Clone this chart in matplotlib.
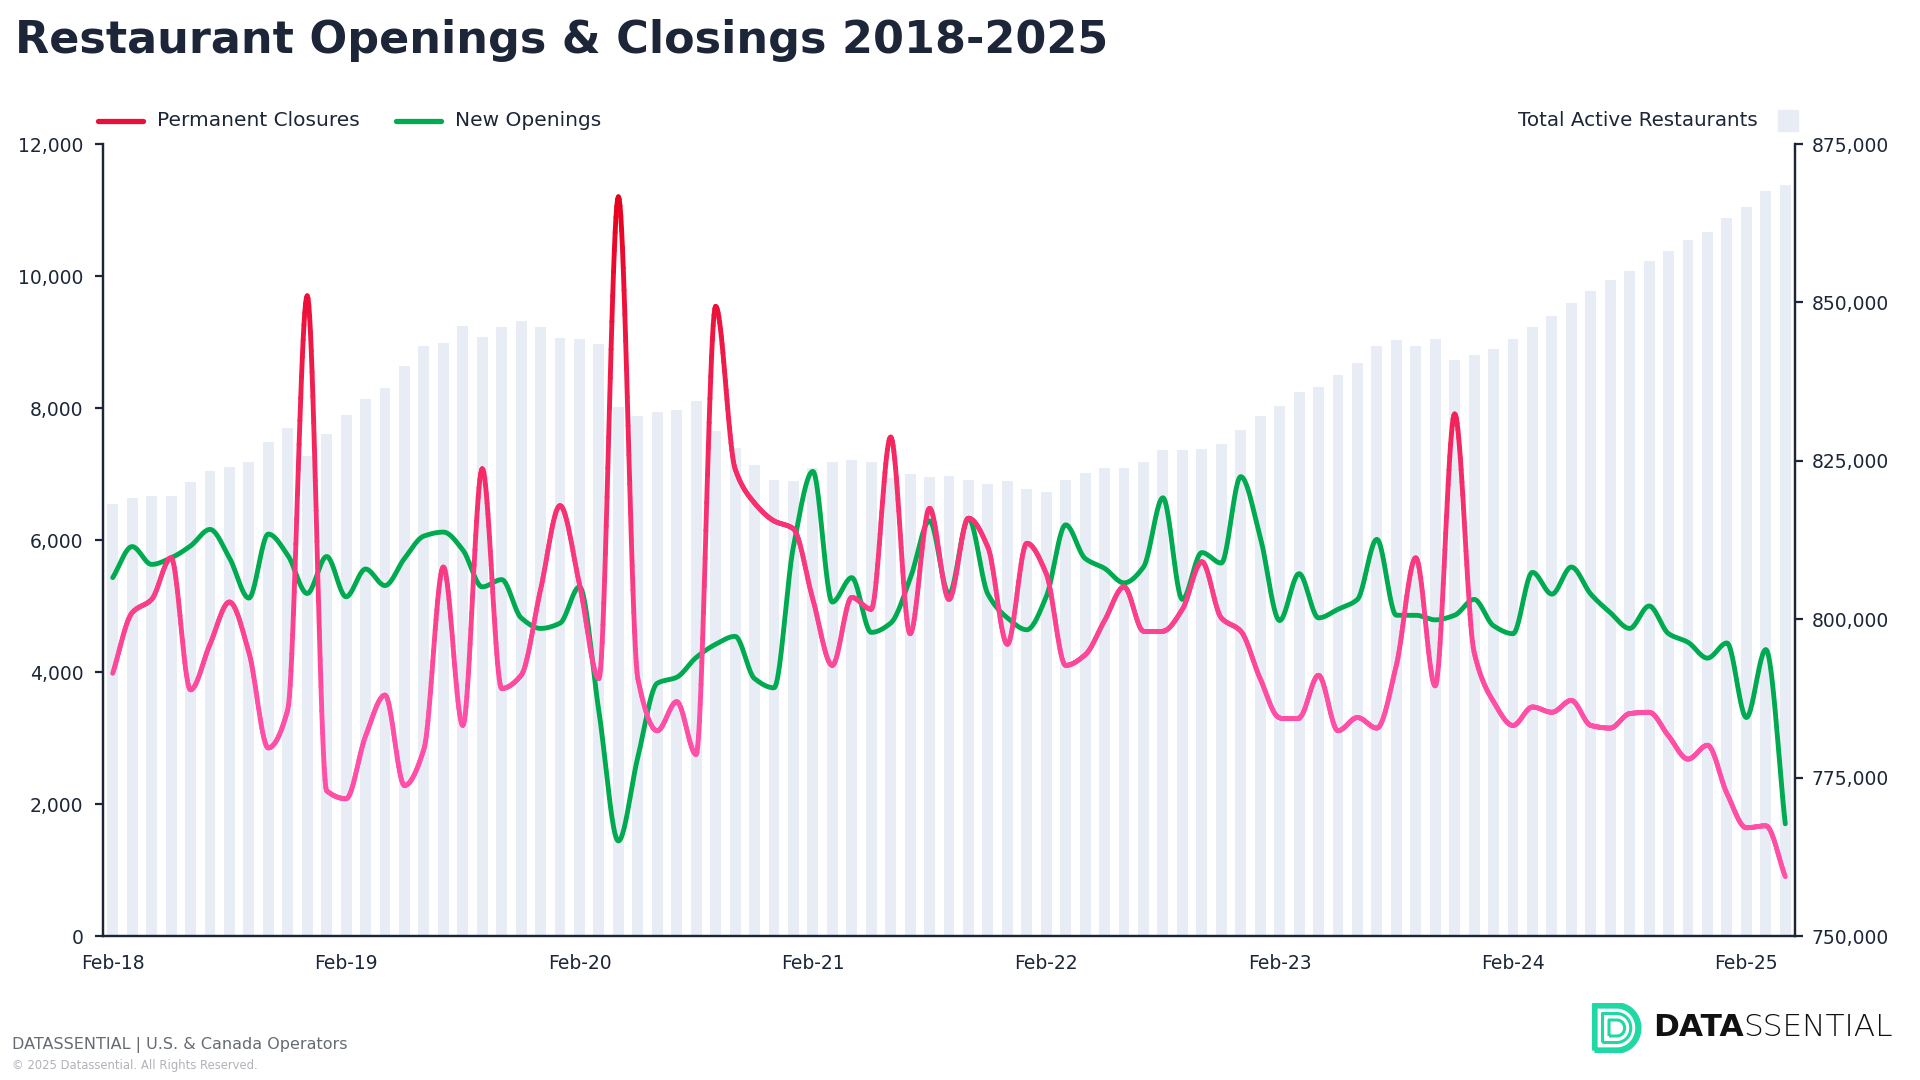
#!/usr/bin/env python3
"""Restaurant openings & closings 2018-2025, monthly, with total active restaurants as bars."""

import numpy as np
import matplotlib

matplotlib.use("Agg")
import matplotlib.pyplot as plt
from matplotlib.collections import LineCollection
from matplotlib.lines import Line2D
from matplotlib.patches import Rectangle, PathPatch
from matplotlib.path import Path
from matplotlib.colors import to_rgb

# monthly, Feb-18 .. Apr-25
closures = [
    3980, 4900, 5100, 5730, 3730, 4420, 5060, 4300, 2850, 3430, 9700, 2200,
    2080, 3030, 3650, 2280, 2830, 5590, 3190, 7080, 3750, 3950, 5250, 6520,
    5330, 3900, 11200, 3900, 3110, 3550, 2750, 9540, 7080, 6560, 6290, 6170,
    5100, 4100, 5130, 4950, 7560, 4580, 6480, 5100, 6330, 5890, 4420, 5950,
    5490, 4100, 4260, 4780, 5290, 4620, 4620, 4950, 5670, 4820, 4620, 3900,
    3310, 3310, 3950, 3110, 3310, 3150, 4100, 5730, 3790, 7910, 4300, 3550,
    3190, 3470, 3390, 3570, 3190, 3150, 3370, 3390, 3030, 2680, 2890, 2160,
    1640, 1670, 900,
]
openings = [
    5430, 5900, 5630, 5730, 5910, 6160, 5730, 5120, 6090, 5770, 5190, 5750,
    5140, 5560, 5310, 5720, 6060, 6120, 5850, 5290, 5400, 4820, 4660, 4740,
    5290, 3400, 1440, 2710, 3830, 3920, 4220, 4420, 4540, 3900, 3760, 5900,
    7040, 5060, 5430, 4600, 4740, 5410, 6290, 5180, 6330, 5180, 4820, 4640,
    5140, 6230, 5720, 5570, 5350, 5590, 6640, 5100, 5810, 5650, 6960, 6050,
    4780, 5490, 4820, 4950, 5100, 6010, 4860, 4860, 4790, 4860, 5100, 4700,
    4580, 5510, 5180, 5590, 5180, 4900, 4660, 5000, 4580, 4450, 4210, 4440,
    3310, 4340, 1700,
]
active = [
    818120, 819110, 819440, 819440, 821670, 823410, 824070, 824820, 827960,
    830190, 825810, 829280, 832260, 834820, 836560, 840030, 843170, 843670,
    846310, 844570, 846150, 847140, 846150, 844410, 844240, 843420, 833500,
    832090, 832750, 833080, 834490, 829690, 827050, 824400, 822010, 821840,
    823910, 824820, 825150, 824820, 822250, 822910, 822500, 822580, 822010,
    821350, 821840, 820600, 820100, 822010, 823080, 823910, 823910, 824820,
    826720, 826720, 826880, 827710, 829860, 832090, 833660, 835890, 836720,
    838620, 840360, 843170, 844000, 843170, 844160, 840940, 841760, 842670,
    844160, 846150, 847880, 849950, 851850, 853590, 854990, 856480, 858050,
    859780, 861190, 863260, 865000, 867560, 868470,
]
tick_labels = ["Feb-18", "Feb-19", "Feb-20", "Feb-21", "Feb-22", "Feb-23", "Feb-24", "Feb-25"]

NAVY = "#1c2638"
BAR = "#e8edf5"
PINK = "#ff4fa6"
RED = "#e8001c"
GREEN = "#00aa50"
TEAL = "#1fd8a4"


def monotone(x, y, n=24):
    # monotone cubic (Fritsch-Carlson), only for drawing the smooth line
    x = np.asarray(x, float)
    y = np.asarray(y, float)
    h = np.diff(x)
    d = np.diff(y) / h
    m = np.zeros_like(y)
    m[0], m[-1] = d[0], d[-1]
    for k in range(1, len(y) - 1):
        if d[k - 1] * d[k] > 0:
            w1 = 2 * h[k] + h[k - 1]
            w2 = h[k] + 2 * h[k - 1]
            m[k] = (w1 + w2) / (w1 / d[k - 1] + w2 / d[k])
    xs, ys = [], []
    t = np.linspace(0, 1, n, endpoint=False)
    for k in range(len(x) - 1):
        h00 = 2 * t**3 - 3 * t**2 + 1
        h10 = t**3 - 2 * t**2 + t
        h01 = -2 * t**3 + 3 * t**2
        h11 = t**3 - t**2
        xs.append(x[k] + t * h[k])
        ys.append(h00 * y[k] + h10 * h[k] * m[k] + h01 * y[k + 1] + h11 * h[k] * m[k + 1])
    xs.append([x[-1]])
    ys.append([y[-1]])
    return np.concatenate(xs), np.concatenate(ys)


plt.rcParams["font.family"] = ["DejaVu Sans"]

fig = plt.figure(figsize=(19.2, 10.8), dpi=100)
rect = [103 / 1920, 1 - 936 / 1080, (1795 - 103) / 1920, (936 - 144) / 1080]
ax = fig.add_axes(rect)
axb = ax.twinx()
ax.set_zorder(axb.get_zorder() + 1)
ax.patch.set_visible(False)

idx = np.arange(len(active))

# bars: total active restaurants (right axis)
axb.bar(idx, active, width=0.56, color=BAR, zorder=1)
axb.set_ylim(750000, 875000)
axb.set_yticks(np.arange(750000, 875001, 25000))
axb.set_yticklabels([f"{v:,}" for v in range(750000, 875001, 25000)])

# closures: gradient pink -> red by value
xs, ys = monotone(idx, closures)
pts = np.column_stack([xs, ys]).reshape(-1, 1, 2)
segs = np.concatenate([pts[:-1], pts[1:]], axis=1)
mid = (ys[:-1] + ys[1:]) / 2
tt = np.clip((mid - 3500) / (11200 - 3500), 0, 1)[:, None]
cols = (1 - tt) * np.array(to_rgb(PINK)) + tt * np.array(to_rgb(RED))
lc = LineCollection(segs, colors=cols, linewidths=3.5, capstyle="round", joinstyle="round", zorder=3)
ax.add_collection(lc)

# openings
gx, gy = monotone(idx, openings)
ax.plot(gx, gy, color=GREEN, lw=3.5, solid_capstyle="round", zorder=2)

ax.set_xlim(-0.5, len(idx) - 0.5)
ax.set_ylim(0, 12000)
ax.set_yticks(np.arange(0, 12001, 2000))
ax.set_yticklabels([f"{v:,}" for v in range(0, 12001, 2000)])
ax.set_xticks(idx[::12])
ax.set_xticklabels(tick_labels)

for a in (ax, axb):
    a.spines["top"].set_visible(False)
    for s in ("left", "right", "bottom"):
        a.spines[s].set_color(NAVY)
        a.spines[s].set_linewidth(1.6)
ax.tick_params(axis="y", length=6, width=1.6, color=NAVY, pad=8, labelsize=13.5, labelcolor=NAVY)
axb.tick_params(axis="y", length=6, width=1.6, color=NAVY, pad=6, labelsize=13.5, labelcolor=NAVY)
ax.tick_params(axis="x", length=0, pad=13, labelsize=13.5, labelcolor=NAVY)

# title
fig.text(15 / 1920, 1 - 53 / 1080, "Restaurant Openings & Closings 2018-2025",
         fontsize=32, fontweight="bold", color=NAVY, va="baseline", ha="left")

# legend
ly = 1 - 121 / 1080
fig.add_artist(Line2D([98 / 1920, 143 / 1920], [ly, ly], transform=fig.transFigure,
                      color="#e8103a", lw=3.8, solid_capstyle="round"))
fig.text(157 / 1920, ly, "Permanent Closures", fontsize=14.5, color=NAVY, va="center")
fig.add_artist(Line2D([396 / 1920, 441 / 1920], [ly, ly], transform=fig.transFigure,
                      color=GREEN, lw=3.8, solid_capstyle="round"))
fig.text(455 / 1920, ly, "New Openings", fontsize=14.5, color=NAVY, va="center")
fig.text(1758 / 1920, ly, "Total Active Restaurants", fontsize=14.3, color=NAVY, va="center", ha="right")
fig.add_artist(Rectangle((1778 / 1920, 1 - 131 / 1080), 20 / 1920, 21 / 1080,
                         transform=fig.transFigure, color=BAR))

# footer
fig.text(12 / 1920, 1 - 1045 / 1080, "DATASSENTIAL | U.S. & Canada Operators",
         fontsize=11.5, color="#666b73", va="center")
fig.text(12 / 1920, 1 - 1065 / 1080, "\u00a9 2025 Datassential. All Rights Reserved.",
         fontsize=8.4, color="#b0b3b8", va="center")

# logo
lax = fig.add_axes([1592 / 1920, 1 - 1053 / 1080, 50 / 1920, 50 / 1080])
lax.set_xlim(0, 1)
lax.set_ylim(0, 1)
lax.axis("off")
for k, lw in ((0.05, 4.5), (0.21, 2.2), (0.34, 2.2)):
    r = 0.5 - k
    th = np.linspace(np.pi / 2, -np.pi / 2, 40)
    verts = [(k, k), (k, 1 - k), (0.5, 1 - k)]
    verts += [(0.5 + r * np.cos(a) * 0.95, 0.5 + r * np.sin(a)) for a in th]
    verts += [(k, k)]
    lax.add_patch(PathPatch(Path(verts), fill=False, edgecolor=TEAL, lw=lw, joinstyle="round"))
t1 = fig.text(1653 / 1920, 1 - 1027 / 1080, "DATA", fontsize=22.5, fontweight="bold",
              color="#111111", va="center")
fig.canvas.draw()
bb = t1.get_window_extent().transformed(fig.transFigure.inverted())
fig.text(bb.x1, bb.y0, "SSENTIAL", fontsize=22.5, fontweight="light", color="#111111", va="bottom")

fig.savefig("out.png", dpi=100)
